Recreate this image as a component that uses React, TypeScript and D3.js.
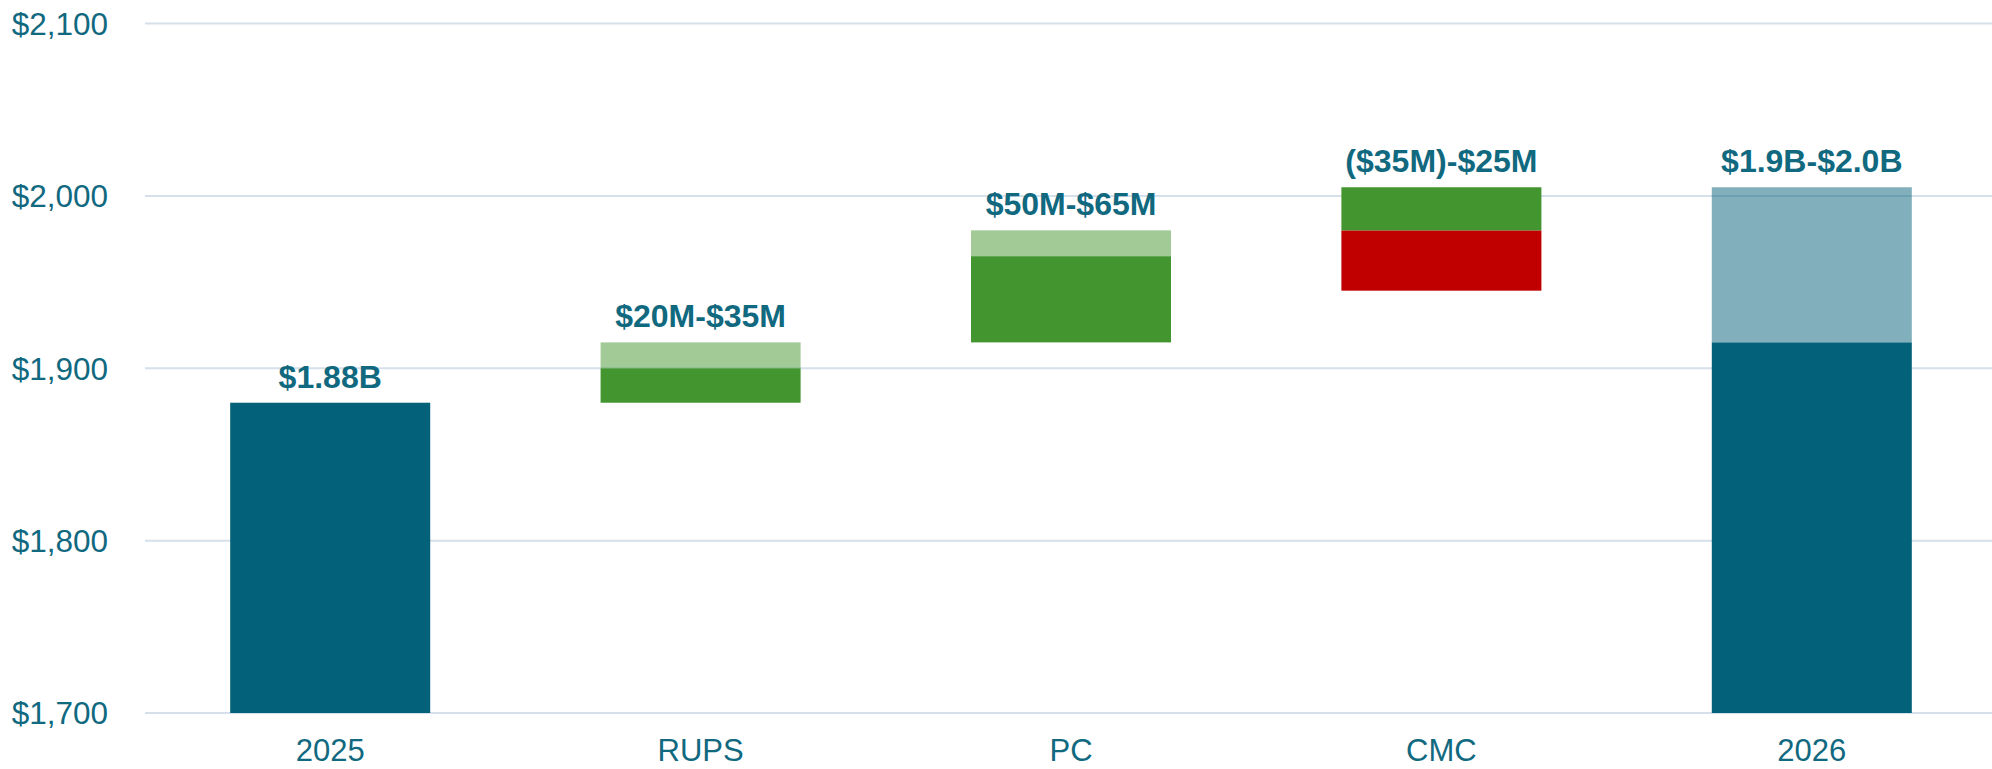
import React from "react";
import * as d3 from "d3";

const categories = ["2025", "RUPS", "PC", "CMC", "2026"];
const isTotal = [true, false, false, false, true];
const baseValues = [1700, 1880, 1915, 1980, 1700];
const lowValues = [1880, 1900, 1965, 1945, 1915];
const highValues = [1880, 1915, 1980, 2005, 2005];
const barLabels = ["$1.88B", "$20M-$35M", "$50M-$65M", "($35M)-$25M", "$1.9B-$2.0B"];
const yTicks = [1700, 1800, 1900, 2000, 2100];

const W = 1992;
const H = 769;
const TEAL = "#03617A";
const GREEN = "#43962F";
const RED = "#C00000";
const TEXT = "#11697F";
const GRID = "#D6E0EA";
const FONT = "'Liberation Sans', Arial, sans-serif";

export default function App() {
  React.useEffect(() => {
    document.body.style.margin = "0";
  }, []);

  const x = d3.scaleBand<string>().domain(categories).range([145, 1997]).paddingInner(0.46).paddingOuter(0.23);
  const y = d3.scaleLinear().domain([1700, 2100]).range([713, 23.5]);
  const fmt = d3.format(",");
  const bw = x.bandwidth();

  const rects: any[] = [];
  categories.forEach((c, i) => {
    const base = baseValues[i];
    const low = lowValues[i];
    const high = highValues[i];
    const color = isTotal[i] ? TEAL : GREEN;
    const x0 = x(c)!;
    if (low >= base) {
      rects.push({ key: c + "s", x: x0, y0: base, y1: low, fill: color, op: 1 });
      if (high > low) rects.push({ key: c + "l", x: x0, y0: low, y1: high, fill: color, op: 0.5 });
    } else {
      rects.push({ key: c + "d", x: x0, y0: low, y1: base, fill: RED, op: 1 });
      rects.push({ key: c + "u", x: x0, y0: base, y1: high, fill: color, op: 1 });
    }
  });

  return (
    <svg width={W} height={H} style={{ position: "absolute", left: 0, top: 0, display: "block", background: "#fff" }}>
      {yTicks.map((t) => (
        <g key={t}>
          <line x1={145} x2={W} y1={y(t)} y2={y(t)} stroke={GRID} strokeWidth={2} />
          <text x={108} y={y(t)} dy="0.36em" textAnchor="end" fontFamily={FONT} fontSize={31.5} fill={TEXT}>
            {"$" + fmt(t)}
          </text>
        </g>
      ))}
      {rects.map((r) => (
        <rect
          key={r.key}
          x={r.x}
          width={bw}
          y={y(Math.max(r.y0, r.y1))}
          height={Math.abs(y(r.y0) - y(r.y1))}
          fill={r.fill}
          fillOpacity={r.op}
        />
      ))}
      {categories.map((c, i) => (
        <text
          key={c + "lab"}
          x={x(c)! + bw / 2}
          y={y(Math.max(baseValues[i], lowValues[i], highValues[i])) - 15}
          textAnchor="middle"
          fontFamily={FONT}
          fontSize={32}
          fontWeight="bold"
          fill={TEXT}
        >
          {barLabels[i]}
        </text>
      ))}
      {categories.map((c) => (
        <text
          key={c + "cat"}
          x={x(c)! + bw / 2}
          y={761}
          textAnchor="middle"
          fontFamily={FONT}
          fontSize={31}
          fill={TEXT}
        >
          {c}
        </text>
      ))}
    </svg>
  );
}
